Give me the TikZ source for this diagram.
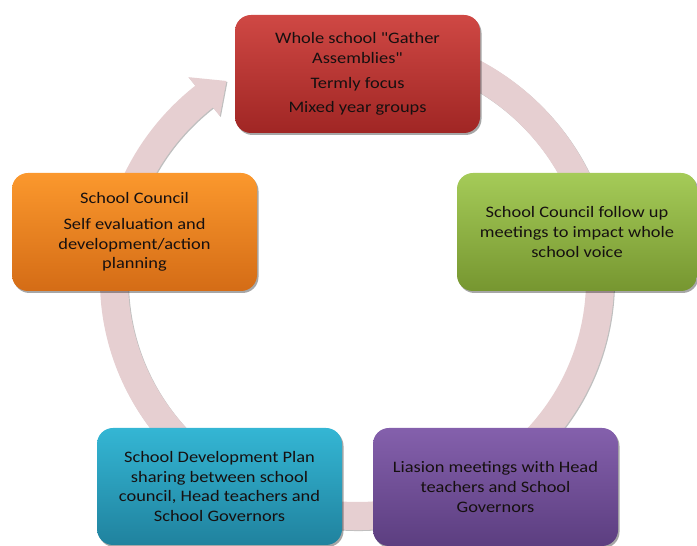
\documentclass[tikz,border=0pt]{standalone}
\usepackage{fontspec}
\setmainfont{Carlito}[FakeStretch=1.15, Ligatures=TeXOff]
\usetikzlibrary{shadows}
\definecolor{ringc}{RGB}{230,207,209}
\definecolor{txt}{RGB}{22,16,16}
\definecolor{redT}{RGB}{207,72,68}
\definecolor{redB}{RGB}{160,38,36}
\definecolor{greenT}{RGB}{165,203,88}
\definecolor{greenB}{RGB}{118,150,48}
\definecolor{purpleT}{RGB}{132,96,172}
\definecolor{purpleB}{RGB}{92,62,128}
\definecolor{cyanT}{RGB}{52,182,212}
\definecolor{cyanB}{RGB}{32,130,158}
\definecolor{orangeT}{RGB}{251,152,45}
\definecolor{orangeB}{RGB}{212,108,22}
\begin{document}
\begin{tikzpicture}[x=1pt,y=1pt,
  box/.style={rounded corners=16pt, minimum width=245pt, minimum height=118pt,
    align=center, text=txt, font=\fontsize{16}{19.8}\selectfont, inner sep=0pt,
    drop shadow={shadow xshift=1.5pt, shadow yshift=-2pt, opacity=0.35, fill=black}},
  ring/.style={fill=ringc,
    drop shadow={shadow xshift=1pt, shadow yshift=-1pt, opacity=0.25, fill=black}}]
\useasboundingbox (0,0) rectangle (697,546);
\coordinate (E) at (357,266);
% circular arrow
\path[ring]
  ([shift={(E)}]80:257pt and 250pt)
  arc[start angle=80, end angle=-231, x radius=257pt, y radius=250pt]
  -- ([shift={(E)}]-231:268pt and 261pt)
  -- ([shift={(E)}]-237.5:243pt and 236pt)
  -- ([shift={(E)}]-231:218pt and 211pt)
  -- ([shift={(E)}]-231:229pt and 222pt)
  arc[start angle=-231, end angle=80, x radius=229pt, y radius=222pt]
  -- cycle;
% boxes
\node[box, top color=redT, bottom color=redB] (red) at (357.5,472)
  {Whole school "Gather\\Assemblies"\\[5pt]Termly focus\\[5pt]Mixed year groups};
\node[box, minimum width=240pt, top color=greenT, bottom color=greenB] (green) at (577,314)
  {School Council follow up\\meetings to impact whole\\school voice};
\node[box, top color=purpleT, bottom color=purpleB] (purple) at (495.5,59)
  {Liasion meetings with Head\\teachers and School\\Governors};
\node[box, minimum height=117pt, top color=cyanT, bottom color=cyanB] (cyan) at (219.5,59.5)
  {School Development Plan\\sharing between school\\council, Head teachers and\\School Governors};
\node[box, top color=orangeT, bottom color=orangeB] (orange) at (134.5,314)
  {School Council\\[6pt]Self evaluation and\\development/action\\planning};
\end{tikzpicture}
\end{document}
